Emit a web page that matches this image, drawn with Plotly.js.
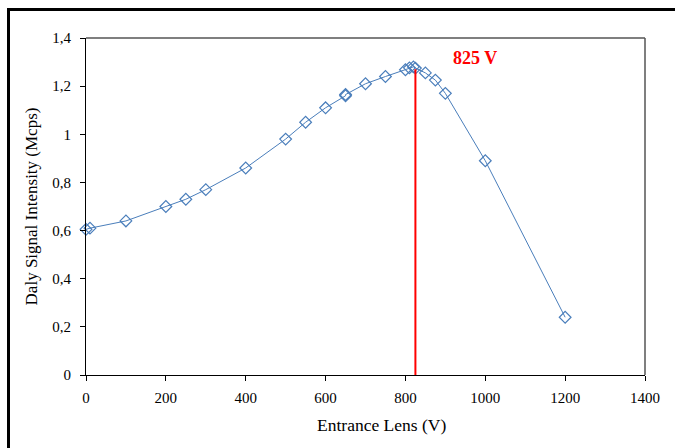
<!DOCTYPE html>
<html>
<head>
<meta charset="utf-8">
<script src="https://cdn.plot.ly/plotly-3.0.1.min.js"></script>
<style>
html,body{margin:0;padding:0;background:#fff;overflow:hidden;}
#frame{position:absolute;left:7px;top:8px;width:700px;height:500px;border:3px solid #000;box-sizing:border-box;pointer-events:none;z-index:5;}
#chart{position:absolute;left:0;top:0;width:675px;height:448px;}
</style>
</head>
<body>
<div id="chart"></div>
<div id="frame"></div>
<script>
// Data
const lensVoltage = [0, 10, 100, 200, 250, 300, 400, 500, 550, 600, 650, 650, 700, 750, 800, 810, 820, 825, 850, 875, 900, 1000, 1200];
const signalMcps = [0.605, 0.61, 0.64, 0.70, 0.73, 0.77, 0.86, 0.98, 1.05, 1.11, 1.16, 1.165, 1.21, 1.24, 1.268, 1.276, 1.28, 1.275, 1.255, 1.225, 1.17, 0.89, 0.24];
const optimumVoltage = 825;
const optimumTop = 1.27;
const optimumLabel = "825 V";
const xTitle = "Entrance Lens (V)";
const yTitle = "Daly Signal Intensity (Mcps)";
const xTicks = [0, 200, 400, 600, 800, 1000, 1200, 1400];
const yTicks = [0, 0.2, 0.4, 0.6, 0.8, 1, 1.2, 1.4];
const yTickText = ["0", "0,2", "0,4", "0,6", "0,8", "1", "1,2", "1,4"];

const serif = "Liberation Serif";

const trace = {
  x: lensVoltage,
  y: signalMcps,
  type: "scatter",
  mode: "lines+markers",
  line: {color: "#4a7ebb", width: 1},
  marker: {symbol: "diamond-open", size: 9, color: "#4a7ebb", line: {width: 1.2, color: "#4a7ebb"}},
  hoverinfo: "skip",
  cliponaxis: false
};

const layout = {
  width: 675,
  height: 448,
  margin: {l: 86, r: 30, t: 38, b: 73},
  paper_bgcolor: "#fff",
  plot_bgcolor: "#fff",
  showlegend: false,
  font: {family: serif, size: 15, color: "#000"},
  xaxis: {
    range: [0, 1400],
    tickvals: xTicks,
    ticktext: xTicks.map(String),
    showgrid: false,
    zeroline: false,
    showline: true,
    linecolor: "#000",
    linewidth: 1,
    ticks: "outside",
    ticklen: 5,
    tickcolor: "#000",
    ticklabelstandoff: 4,
    tickfont: {family: serif, size: 15, color: "#000"}
  },
  yaxis: {
    range: [0, 1.4],
    tickvals: yTicks,
    ticktext: yTickText,
    showgrid: false,
    zeroline: false,
    showline: true,
    linecolor: "#000",
    linewidth: 1,
    ticks: "outside",
    ticklen: 5,
    tickcolor: "#000",
    ticklabelstandoff: 6,
    tickfont: {family: serif, size: 15, color: "#000"},
    title: {text: yTitle, font: {family: serif, size: 17, color: "#000"}, standoff: 10}
  },
  shapes: [
    {type: "line", xref: "paper", yref: "paper", x0: 0, x1: 1, y0: 1, y1: 1, line: {color: "#555", width: 1.5}},
    {type: "line", xref: "paper", yref: "paper", x0: 1, x1: 1, y0: 0, y1: 1, line: {color: "#555", width: 1.5}},
    {type: "line", xref: "x", yref: "y", x0: optimumVoltage, x1: optimumVoltage, y0: 0, y1: optimumTop, line: {color: "#ff0000", width: 2}}
  ],
  annotations: [
    {x: 975, y: 1.315, xref: "x", yref: "y", text: "<b>" + optimumLabel + "</b>", showarrow: false,
     font: {family: serif, size: 18, color: "#ff0000"}},
    {x: 0.528, y: -0.148, xref: "paper", yref: "paper", text: xTitle, showarrow: false,
     xanchor: "center", yanchor: "middle",
     font: {family: serif, size: 17.5, color: "#000"}}
  ]
};

Plotly.newPlot("chart", [trace], layout, {displayModeBar: false, staticPlot: true});
</script>
</body>
</html>
